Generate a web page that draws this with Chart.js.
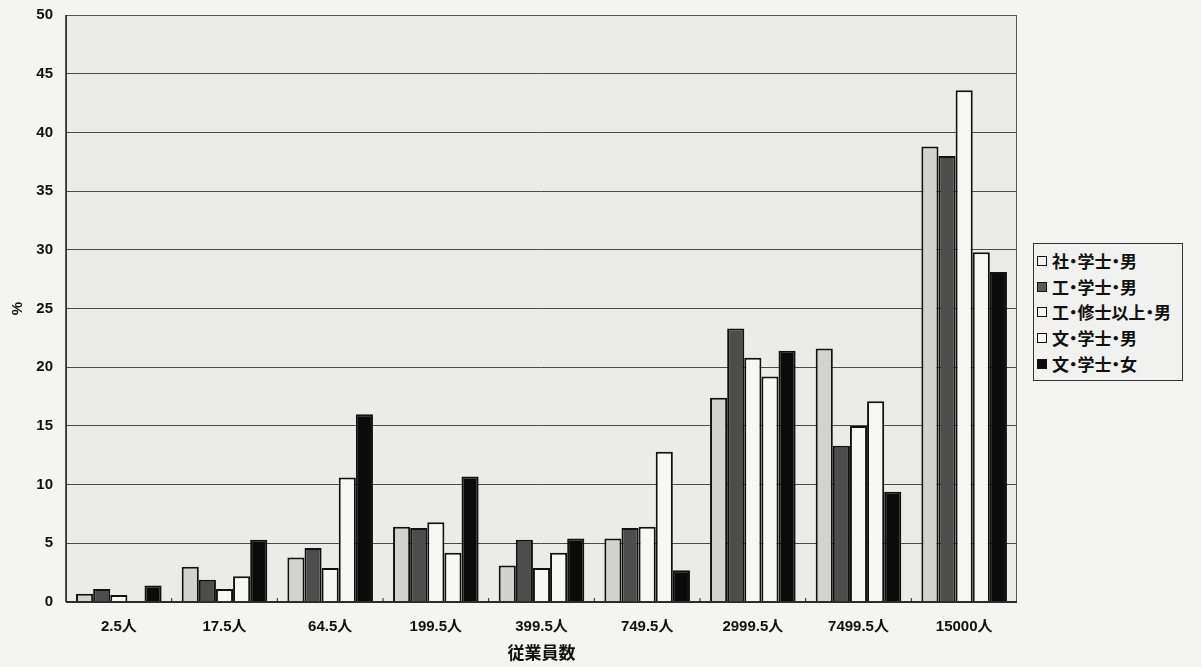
<!DOCTYPE html>
<html><head><meta charset="utf-8">
<script src="https://cdn.jsdelivr.net/npm/chart.js@4/dist/chart.umd.min.js"></script>
<style>
html,body{margin:0;padding:0;background:#f4f4f2;}
#wrap{position:relative;width:1201px;height:667px;}
canvas{position:absolute;left:0;top:0;}
#legend{position:absolute;left:1033px;top:243px;width:150px;height:138px;border:1.5px solid #333;background:#f1f1ef;box-sizing:border-box;padding:4px 0 0 3px;font-family:"Noto Sans CJK JP",sans-serif;font-weight:bold;font-size:17px;color:#111;font-feature-settings:"palt";}
#legend .it{height:25.7px;line-height:25.7px;display:flex;align-items:center;white-space:nowrap;}
#legend .sw{width:8px;height:8px;border:1.5px solid #111;margin-right:5px;flex:none;}
</style></head>
<body><div id="wrap"><canvas id="c" width="1201" height="667"></canvas><div id="legend"></div></div>
<script>
const categories = ["2.5人","17.5人","64.5人","199.5人","399.5人","749.5人","2999.5人","7499.5人","15000人"];
const seriesNames = ["社・学士・男","工・学士・男","工・修士以上・男","文・学士・男","文・学士・女"];
const shaGakushiOtoko = [0.7, 3.0, 3.8, 6.4, 3.1, 5.4, 17.4, 21.6, 38.8];
const koGakushiOtoko  = [1.1, 1.9, 4.6, 6.3, 5.3, 6.3, 23.3, 13.3, 38.0];
const koShushiOtoko   = [0.6, 1.1, 2.9, 6.8, 2.9, 6.4, 20.8, 15.0, 43.6];
const bunGakushiOtoko = [0.0, 2.2, 10.6, 4.2, 4.2, 12.8, 19.2, 17.1, 29.8];
const bunGakushiOnna  = [1.4, 5.3, 16.0, 10.7, 5.4, 2.7, 21.4, 9.4, 28.1];
const yTicks = [0,5,10,15,20,25,30,35,40,45,50];

const fills = ["#d2d2d0","#4d4d4d","#f7f7f5","#f7f7f5","#0b0b0b"];
const legendFills = ["#f2f2f0","#5a5a5a","#f7f7f5","#f7f7f5","#0b0b0b"];
const seriesData = [shaGakushiOtoko, koGakushiOtoko, koShushiOtoko, bunGakushiOtoko, bunGakushiOnna];

const FONT = '"Liberation Sans", "Noto Sans CJK JP", sans-serif';
const JFONT = '"Noto Sans CJK JP", sans-serif';

const bgPlugin = {
  id:'bg',
  beforeDraw(chart){
    const {ctx, chartArea:a} = chart;
    ctx.save();
    ctx.fillStyle = '#ebebe9';
    ctx.fillRect(a.left, a.top, a.right-a.left, a.bottom-a.top);
    ctx.restore();
  },
  afterDatasetsDraw(chart){
    const {ctx, chartArea:a, scales} = chart;
    ctx.save();
    ctx.strokeStyle = '#555';
    ctx.lineWidth = 1;
    ctx.strokeRect(a.left+0.5, a.top+0.5, a.right-a.left-1, a.bottom-a.top-1);
    ctx.strokeStyle = '#222';
    ctx.lineWidth = 1.5;
    ctx.beginPath(); ctx.moveTo(a.left, a.bottom); ctx.lineTo(a.right, a.bottom); ctx.stroke();
    ctx.beginPath(); ctx.moveTo(a.left, a.top); ctx.lineTo(a.left, a.bottom); ctx.stroke();
    const x = scales.x;
    ctx.lineWidth = 1;
    for (let i=1;i<categories.length;i++){
      const p = (x.getPixelForValue(i-1)+x.getPixelForValue(i))/2;
      ctx.beginPath(); ctx.moveTo(p, a.bottom); ctx.lineTo(p, a.bottom-4); ctx.stroke();
    }
    ctx.restore();
  }
};

new Chart(document.getElementById('c'), {
  type:'bar',
  data:{
    labels: categories,
    datasets: seriesNames.map((n,i)=>({
      label:n, data:seriesData[i], backgroundColor:fills[i],
      borderColor:'#111', borderWidth:2,
      categoryPercentage:0.81, barPercentage:1.0
    }))
  },
  options:{
    responsive:false, animation:false,
    layout:{padding:{top:15,right:184,bottom:0,left:0}},
    plugins:{legend:{display:false}, tooltip:{enabled:false}},
    scales:{
      x:{
        grid:{display:false},
        border:{display:false},
        ticks:{color:'#111', font:{family:FONT, size:15, weight:'bold'}, padding:8},
        title:{display:true, text:'従業員数', color:'#111', font:{family:JFONT, size:17, weight:'bold'}, padding:{top:0}},
        afterFit(s){ s.height = 65; s.paddingLeft = 0; s.paddingRight = 0; }
      },
      y:{
        min:0, max:50,
        afterBuildTicks(s){ s.ticks = yTicks.map(v=>({value:v})); },
        grid:{color:'#4a4a4a', lineWidth:1, drawTicks:false},
        border:{display:false},
        ticks:{color:'#111', font:{family:FONT, size:15, weight:'bold'}, padding:13},
        title:{display:true, text:'%', color:'#111', font:{family:FONT, size:15, weight:'bold'}, padding:{top:9,bottom:0}},
        afterFit(s){ s.width = 66; s.paddingTop = 0; s.paddingBottom = 0; }
      }
    }
  },
  plugins:[bgPlugin]
});

const lg = document.getElementById('legend');
seriesNames.forEach((n,i)=>{
  const d = document.createElement('div'); d.className='it';
  const sw = document.createElement('span'); sw.className='sw'; sw.style.background = legendFills[i];
  const t = document.createElement('span'); t.textContent = n;
  d.appendChild(sw); d.appendChild(t); lg.appendChild(d);
});
</script></body></html>
